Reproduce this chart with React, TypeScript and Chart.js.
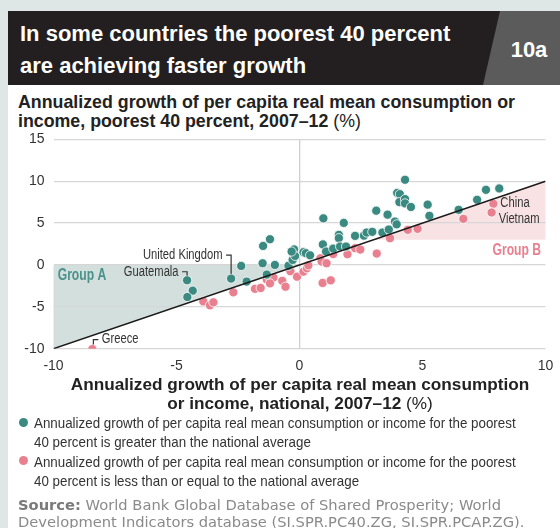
import React, { useEffect, useRef } from "react";
import { Chart, registerables } from "chart.js";

Chart.register(...registerables);

// ---------- data ----------
const X_MIN = -10;
const X_MAX = 10;
const Y_MIN = -10;
const Y_MAX = 15;
const TICK_STEP = 5;

// poorest 40% growth > national average (teal)
const ABOVE_X = [-4.57, -4.34, -4.56, -2.78, -2.37, -2.15, -1.48, -1.2, -1.5, -1.0, -1.33, -0.45, -0.25, -0.22, -0.28, -0.18, -0.32, 0.16, 0.26, 0.43, 0.95, 0.97, 1.08, 1.37, 1.6, 1.6, 1.65, 1.89, 1.8, 2.26, 2.62, 2.73, 2.96, 3.12, 3.58, 3.37, 3.63, 3.88, 3.95, 3.97, 4.08, 4.06, 4.29, 4.29, 4.53, 4.29, 5.21, 5.28, 6.47, 7.22, 7.58, 8.12];
const ABOVE_Y = [-1.83, -3.07, -3.83, -1.63, -0.12, -1.99, 2.27, 3.07, 0.2, 0.0, -1.15, -0.1, 1.2, 1.85, 0.6, 1.08, 1.6, 1.52, 1.4, 1.15, 2.45, 5.56, 1.6, 1.95, 3.59, 3.2, 2.2, 2.2, 5.02, 3.47, 3.5, 3.87, 3.95, 6.48, 6.0, 3.87, 4.23, 5.18, 4.85, 8.6, 8.45, 7.5, 7.86, 7.35, 6.92, 10.17, 7.2, 5.86, 6.58, 7.78, 8.97, 9.13];

// poorest 40% growth <= national average (pink)
const BELOW_X = [-8.42, -3.91, -3.64, -3.5, -2.69, -1.81, -1.58, -1.33, -1.06, -1.2, -0.7, -0.57, -0.37, -0.1, 0.16, 0.3, 0.36, 0.85, 0.9, 1.1, 1.37, 0.94, 1.27, 1.95, 2.26, 2.47, 3.14, 3.68, 4.4, 4.8, 6.66, 7.88, 7.81];
const BELOW_Y = [-10.05, -4.35, -4.82, -4.46, -3.27, -2.85, -2.75, -1.75, -1.5, -2.2, -1.9, -2.6, -0.75, -1.4, -0.8, -0.4, -0.05, 0.8, 0.4, 0.2, 1.3, -2.15, -1.84, 1.28, 2.0, 1.84, 1.36, 3.19, 4.19, 4.31, 5.5, 7.3, 6.26];

// equality line y = x
const DIAG_X = [-10, 10];
const DIAG_Y = [-10, 10];

// shaded groups (data coordinates)
const GROUP_A_POLY: [number, number][] = [[-10, 0], [0, 0], [-10, -10]];
const GROUP_B_POLY: [number, number][] = [[3, 3], [10, 10], [10, 3]];

const COUNTRY_NAMES = ["United Kingdom", "Guatemala", "Greece", "China", "Vietnam"];
const COUNTRY_X = [-2.78, -4.57, -8.42, 7.88, 7.81];
const COUNTRY_Y = [-1.63, -1.83, -10.05, 7.3, 6.26];

const GROUP_LABELS = ["Group A", "Group B"];
const GROUP_LABEL_X = [-9.83, 9.82];
const GROUP_LABEL_Y = [-1.3, 1.7];

// ---------- styles ----------
const TEAL = "#3b8a81";
const PINK = "#e8808f";
const SHADE_A = "#d3dfdd";
const SHADE_B = "#f8e2e4";
const SANS = '"Liberation Sans", Arial, sans-serif';

const toPts = (xs: number[], ys: number[]) => xs.map((x, i) => ({ x, y: ys[i] }));

function narrowText(ctx: CanvasRenderingContext2D, text: string, x: number, y: number, align: "left" | "right", sx: number) {
  ctx.save();
  ctx.translate(x, y);
  ctx.scale(sx, 1);
  ctx.textAlign = align;
  ctx.textBaseline = "middle";
  ctx.fillText(text, 0, 0);
  ctx.restore();
}

const decorPlugin = {
  id: "decor",
  beforeDraw(chart: any) {
    const { ctx, scales } = chart;
    const xs = scales.x, ys = scales.y;
    const poly = (pts: [number, number][], color: string) => {
      ctx.save();
      ctx.beginPath();
      pts.forEach(([x, y], i) => {
        const px = xs.getPixelForValue(x), py = ys.getPixelForValue(y);
        if (i === 0) ctx.moveTo(px, py); else ctx.lineTo(px, py);
      });
      ctx.closePath();
      ctx.fillStyle = color;
      ctx.fill();
      ctx.restore();
    };
    poly(GROUP_A_POLY, SHADE_A);
    poly(GROUP_B_POLY, SHADE_B);
  },
  afterDatasetsDraw(chart: any) {
    const { ctx, scales } = chart;
    const xs = scales.x, ys = scales.y;
    ctx.save();
    ctx.strokeStyle = "#333";
    ctx.lineWidth = 1.2;
    ctx.fillStyle = "#333";
    ctx.font = `14px ${SANS}`;
    COUNTRY_NAMES.forEach((name, i) => {
      const px = xs.getPixelForValue(COUNTRY_X[i]);
      const py = ys.getPixelForValue(COUNTRY_Y[i]);
      if (name === "United Kingdom" || name === "Guatemala") {
        const rise = name === "United Kingdom" ? 23.5 : 8.5;
        ctx.beginPath();
        ctx.moveTo(px, py - 4.5);
        ctx.lineTo(px, py - rise);
        ctx.lineTo(px - 5, py - rise);
        ctx.stroke();
        narrowText(ctx, name, px - 8.5, py - rise, "right", 0.8);
      } else if (name === "Greece") {
        ctx.beginPath();
        ctx.moveTo(px + 1, py - 4.5);
        ctx.lineTo(px + 1, py - 9.5);
        ctx.lineTo(px + 6, py - 9.5);
        ctx.stroke();
        narrowText(ctx, name, px + 9.5, py - 9.5, "left", 0.8);
      } else if (name === "China") {
        narrowText(ctx, name, px + 7, py - 1, "left", 0.8);
      } else {
        narrowText(ctx, name, px + 7, py + 6.5, "left", 0.8);
      }
    });
    ctx.font = `bold 16px ${SANS}`;
    GROUP_LABELS.forEach((g, i) => {
      ctx.fillStyle = i === 0 ? "#4a928a" : PINK;
      narrowText(ctx, g, xs.getPixelForValue(GROUP_LABEL_X[i]), ys.getPixelForValue(GROUP_LABEL_Y[i]), i === 0 ? "left" : "right", 0.76);
    });
    ctx.restore();
  },
};

function ScatterChart() {
  const ref = useRef<HTMLCanvasElement | null>(null);
  useEffect(() => {
    if (!ref.current) return;
    const chart = new Chart(ref.current, {
      type: "scatter",
      data: {
        datasets: [
          {
            type: "line",
            data: toPts(DIAG_X, DIAG_Y),
            borderColor: "#1a1a1a",
            borderWidth: 1.5,
            pointRadius: 0,
            order: 0,
          } as any,
          {
            data: toPts(ABOVE_X, ABOVE_Y),
            backgroundColor: TEAL,
            borderColor: "#ffffff",
            borderWidth: 0.8,
            pointRadius: 4.6,
            order: 1,
          },
          {
            data: toPts(BELOW_X, BELOW_Y),
            backgroundColor: PINK,
            borderColor: "#ffffff",
            borderWidth: 0.8,
            pointRadius: 4.6,
            order: 2,
          },
        ],
      },
      options: {
        animation: false,
        responsive: false,
        maintainAspectRatio: false,
        layout: { padding: { top: 9.3, right: 14.5, left: 0, bottom: 0 } },
        plugins: { legend: { display: false }, tooltip: { enabled: false } },
        scales: {
          x: {
            type: "linear",
            min: X_MIN,
            max: X_MAX,
            afterFit: (s: any) => { s.height = 31.3; s.paddingLeft = 0; s.paddingRight = 0; },
            ticks: { stepSize: TICK_STEP, color: "#333", font: { family: SANS, size: 14 }, padding: 9 },
            grid: {
              drawTicks: false,
              color: (c: any) => (c.tick && c.tick.value === 0 ? "#cfcfcf" : "rgba(0,0,0,0)"),
              lineWidth: 1.3,
            },
            border: { display: false },
          },
          y: {
            type: "linear",
            min: Y_MIN,
            max: Y_MAX,
            afterFit: (s: any) => { s.width = 53.5; s.paddingTop = 0; s.paddingBottom = 0; },
            ticks: { stepSize: TICK_STEP, color: "#333", font: { family: SANS, size: 14 }, padding: 9 },
            grid: { drawTicks: false, color: "#d6d6d6", lineWidth: 1.3 },
            border: { display: false },
          },
        },
      },
      plugins: [decorPlugin],
    });
    return () => chart.destroy();
  }, []);
  return <canvas ref={ref} width={560} height={250} style={{ position: "absolute", left: 0, top: 130, width: 560, height: 250 }} />;
}

export default function App() {
  const abs = (o: React.CSSProperties): React.CSSProperties => ({ position: "absolute", margin: 0, ...o });
  const legendText: React.CSSProperties = { fontFamily: SANS, fontSize: 15, lineHeight: "19px", color: "#333", whiteSpace: "nowrap", transform: "scaleX(0.89)", transformOrigin: "0 0" };
  return (
    <div style={abs({ left: 0, top: 0, width: 560, height: 528, background: "#dfe7e6", overflow: "hidden" })}>
      <div style={abs({ left: 8, top: 84, width: 552, height: 444, background: "#ffffff" })} />
      <div style={abs({ left: 8, top: 11, width: 552, height: 74, background: "#231f20" })} />
      <div style={abs({ left: 483, top: 11, width: 77, height: 74, background: "#5b5b5b", clipPath: "polygon(17px 0, 77px 0, 77px 74px, 0 74px)" })} />
      <div style={abs({ left: 20, top: 18, width: 470, fontFamily: SANS, fontWeight: "bold", fontSize: 22, lineHeight: "32px", color: "#fff", whiteSpace: "nowrap" })}>
        In some countries the poorest 40 percent<br />are achieving faster growth
      </div>
      <div style={abs({ left: 496, top: 34, width: 66, textAlign: "center", fontFamily: SANS, fontWeight: "bold", fontSize: 22, lineHeight: "32px", color: "#fff" })}>10a</div>
      <div style={abs({ left: 18, top: 93, width: 545, fontFamily: SANS, fontWeight: "bold", fontSize: 17.8, lineHeight: "18.5px", color: "#222", whiteSpace: "nowrap" })}>
        Annualized growth of per capita real mean consumption or<br />income, poorest 40 percent, 2007–12 <span style={{ fontWeight: "normal" }}>(%)</span>
      </div>
      <ScatterChart />
      <div style={abs({ left: 0, top: 375, width: 600, textAlign: "center", fontFamily: SANS, fontWeight: "bold", fontSize: 17.2, lineHeight: "19px", color: "#222", whiteSpace: "nowrap" })}>
        Annualized growth of per capita real mean consumption<br />or income, national, 2007–12 <span style={{ fontWeight: "normal" }}>(%)</span>
      </div>
      <div style={abs({ left: 19, top: 418, width: 9, height: 9, borderRadius: "50%", background: TEAL })} />
      <div style={abs({ left: 34, top: 413, ...legendText })}>
        Annualized growth of per capita real mean consumption or income for the poorest<br />40 percent is greater than the national average
      </div>
      <div style={abs({ left: 19, top: 456, width: 9, height: 9, borderRadius: "50%", background: PINK })} />
      <div style={abs({ left: 34, top: 452, ...legendText })}>
        Annualized growth of per capita real mean consumption or income for the poorest<br />40 percent is less than or equal to the national average
      </div>
      <div style={abs({ left: 18, top: 497, width: 560, fontFamily: '"DejaVu Sans", sans-serif', fontSize: 14.7, lineHeight: "16.5px", color: "#8a8a8a", whiteSpace: "nowrap" })}>
        <span style={{ fontWeight: "bold", color: "#7a7a7a" }}>Source:</span> World Bank Global Database of Shared Prosperity; World<br />Development Indicators database (SI.SPR.PC40.ZG, SI.SPR.PCAP.ZG).
      </div>
    </div>
  );
}
